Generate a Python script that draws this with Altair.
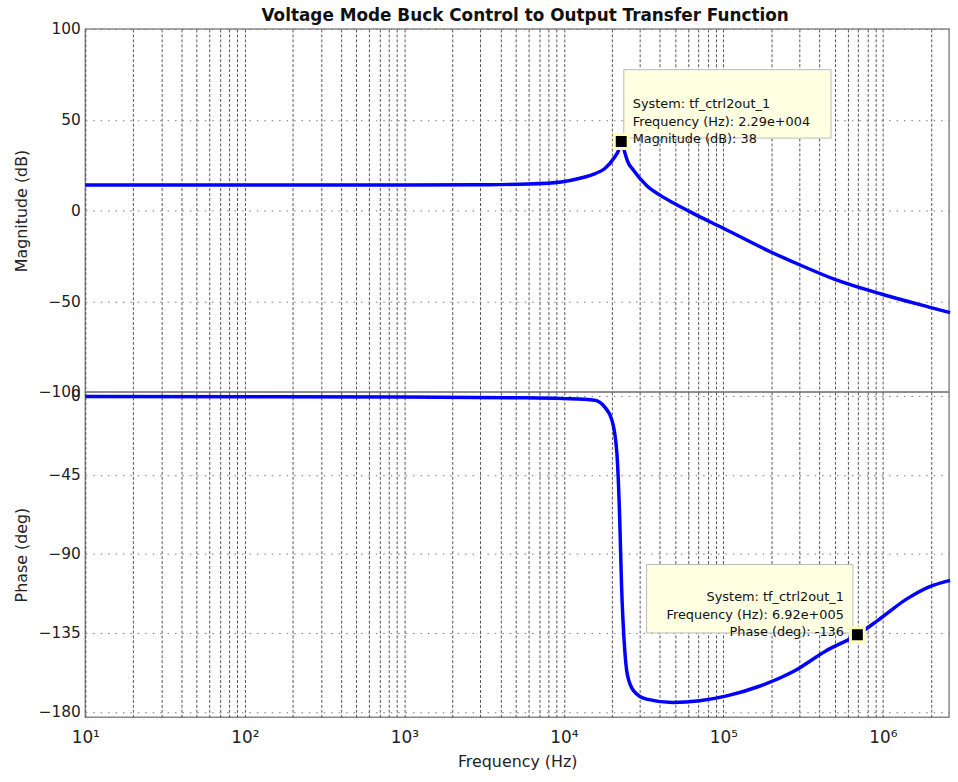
import altair as alt
import pandas as pd

# ---------------- data ----------------
chart_title = "Voltage Mode Buck Control to Output Transfer Function"

freq_mag = [10, 100, 1000, 3000, 6000, 9600, 12800, 15600, 18000, 20800, 22000,
            22900, 24100, 25000, 27400, 33000, 40300, 51300, 66000, 100000,
            200000, 300000, 500000, 1000000, 2000000, 2640000]
mag_db = [14.0, 14.0, 14.0, 14.2, 14.6, 15.7, 17.9, 20.2, 23.0, 29.3, 33.0,
          38.0, 32.0, 27.5, 22.0, 13.8, 8.3, 3.0, -2.0, -9.8,
          -23.0, -29.9, -38.0, -46.3, -53.5, -56.3]

freq_phase = [10, 100, 1000, 5000, 10000, 15600, 18000, 20000, 21500, 22400,
              23000, 24100, 25000, 27400, 33000, 48000, 71000, 105000, 170000,
              278000, 436000, 692000, 940000, 1430000, 1950000, 2640000]
phase_deg = [-0.3, -0.4, -0.6, -1.0, -1.5, -2.4, -6.2, -13.7, -32.5, -70.0,
             -107.8, -145.0, -158.6, -168.0, -172.7, -174.6, -173.6, -170.8, -165.2,
             -156.7, -145.4, -136.0, -127.5, -115.3, -108.7, -105.0]

tip_mag_freq = [22900]
tip_mag_val = [38]
tip_mag_text = ["System: tf_ctrl2out_1", "Frequency (Hz): 2.29e+004", "Magnitude (dB): 38"]

tip_ph_freq = [692000]
tip_ph_val = [-136]
tip_ph_text = ["System: tf_ctrl2out_1", "Frequency (Hz): 6.92e+005", "Phase (deg): -136"]

mag_ticks = [-100, -50, 0, 50, 100]
phase_ticks = [-180, -135, -90, -45, 0]
decade_values = [10, 100, 1000, 10000, 100000, 1000000]
decade_labels = ["10\u00b9", "10\u00b2", "10\u00b3", "10\u2074", "10\u2075", "10\u2076"]
x_min, x_max = 10, 2600000
mag_domain = [-100, 100]
phase_domain = [-183, 2.3]

grid_freqs = [m * 10 ** k for k in range(1, 7) for m in range(1, 10) if m * 10 ** k <= x_max]

label_expr = ""
for v, lab in zip(decade_values, decade_labels):
    label_expr += f"datum.value == {v} ? '{lab}' : "
label_expr += "''"

mag_df = pd.DataFrame({"f": freq_mag, "v": mag_db})
ph_df = pd.DataFrame({"f": freq_phase, "v": phase_deg})
tip1_df = pd.DataFrame({"f": tip_mag_freq, "v": tip_mag_val})
tip2_df = pd.DataFrame({"f": tip_ph_freq, "v": tip_ph_val})
one = pd.DataFrame({"k": [0]})

FONT = "DejaVu Sans"
W = 871
H_TOP = 366
H_BOT = 328

xscale = alt.Scale(type="log", domain=[x_min, x_max], nice=False)

x_top_axis = alt.Axis(values=grid_freqs, labels=False, ticks=False, title=None,
                      grid=True, gridDash=[3, 2], gridColor="#555555", gridWidth=1,
                      domain=False)
x_bot_axis = alt.Axis(values=grid_freqs, labelExpr=label_expr, ticks=False,
                      title="Frequency  (Hz)", grid=True, gridDash=[3, 2],
                      gridColor="#555555", gridWidth=1, domain=False,
                      labelFlush=False, labelOverlap=False, labelPadding=12,
                      labelFontSize=17, titlePadding=9)

def y_axis(title, values):
    return alt.Axis(values=values, title=title, grid=True, gridDash=[1.5, 6],
                    gridColor="#777777", gridWidth=1, ticks=False, domain=False,
                    labelFlush=False, labelOverlap=False, labelPadding=5,
                    titleX=-64, titleAngle=270, titleBaseline="middle")

# ---------------- top: magnitude ----------------
mag_line = alt.Chart(mag_df).mark_line(color="#0000FF", strokeWidth=3.5, interpolate="monotone").encode(
    x=alt.X("f:Q", scale=xscale, axis=x_top_axis),
    y=alt.Y("v:Q", scale=alt.Scale(domain=mag_domain, nice=False), axis=y_axis("Magnitude (dB)", mag_ticks)),
)
box1 = alt.Chart(one).mark_rect(fill="#FFFFE1", stroke="#BBBBBB", strokeWidth=1).encode(
    x=alt.value(543), x2=alt.value(752), y=alt.value(41), y2=alt.value(110))
text1 = alt.Chart(one).mark_text(align="left", baseline="middle", font=FONT, fontSize=13,
                                 lineBreak="\n", lineHeight=17.5, color="#111111").encode(
    x=alt.value(552), y=alt.value(76), text=alt.value("\n".join(tip_mag_text)))
mark1 = alt.Chart(tip1_df).mark_square(fill="black", stroke="#FFFFB8", strokeWidth=3, size=196, opacity=1).encode(
    x=alt.X("f:Q", scale=xscale), y=alt.Y("v:Q"))

top = alt.layer(mag_line, box1, text1, mark1).properties(width=W, height=H_TOP)

# ---------------- bottom: phase ----------------
ph_line = alt.Chart(ph_df).mark_line(color="#0000FF", strokeWidth=3.5, interpolate="monotone").encode(
    x=alt.X("f:Q", scale=xscale, axis=x_bot_axis),
    y=alt.Y("v:Q", scale=alt.Scale(domain=phase_domain, nice=False), axis=y_axis("Phase (deg)", phase_ticks)),
)
box2 = alt.Chart(one).mark_rect(fill="#FFFFE1", stroke="#BBBBBB", strokeWidth=1).encode(
    x=alt.value(566), x2=alt.value(774), y=alt.value(174), y2=alt.value(243))
text2 = alt.Chart(one).mark_text(align="right", baseline="middle", font=FONT, fontSize=13,
                                 lineBreak="\n", lineHeight=17.5, color="#111111").encode(
    x=alt.value(765), y=alt.value(207), text=alt.value("\n".join(tip_ph_text)))
mark2 = alt.Chart(tip2_df).mark_square(fill="black", stroke="#FFFFB8", strokeWidth=3, size=196, opacity=1).encode(
    x=alt.X("f:Q", scale=xscale), y=alt.Y("v:Q"))

bottom = alt.layer(ph_line, box2, text2, mark2).properties(width=W, height=H_BOT)

chart = alt.vconcat(top, bottom, spacing=0, bounds="flush").properties(
    title=alt.TitleParams(chart_title, font=FONT, fontSize=17, fontWeight="bold",
                          color="#111111", anchor="middle", offset=-4, dx=40),
    padding={"left": 13, "top": 4, "right": 0, "bottom": 0},
).configure_axis(
    labelFont=FONT, labelFontSize=15.5, labelColor="#222222",
    titleFont=FONT, titleFontSize=16, titleFontWeight="normal", titleColor="#222222",
).configure_view(
    stroke="#888888", strokeWidth=1.5
)

chart.save("out.html", embed_options={"renderer": "svg", "actions": False})
